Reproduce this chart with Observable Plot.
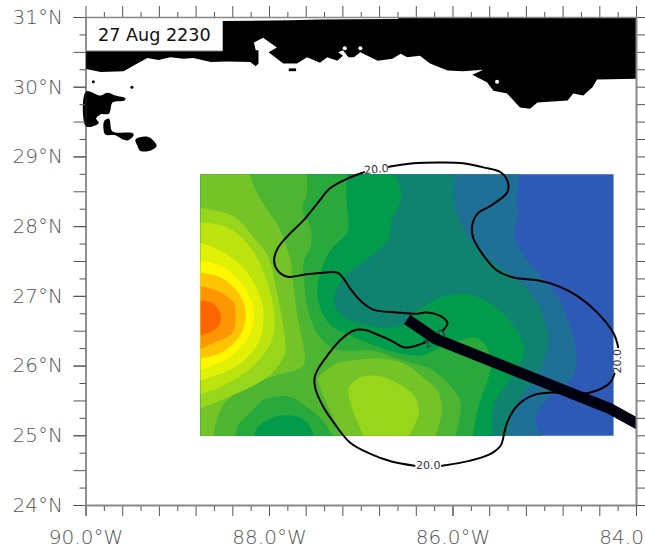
<!DOCTYPE html>
<html>
<head>
<meta charset="utf-8">
<script src="https://cdn.jsdelivr.net/npm/d3@7"></script>
<script src="https://cdn.jsdelivr.net/npm/@observablehq/plot@0.6"></script>
<style>html,body{margin:0;padding:0;background:#fff}svg{display:block}</style>
</head>
<body>
<div id="chart"></div>
<script>
const stamp = "27 Aug 2230";
const contourLabel = "20.0";
const latMajor = [24,24.5,25,25.5,26,26.5,27,27.5,28,28.5,29,29.5,30,30.5,31];
const latMinor = [24.25,24.75,25.25,25.75,26.25,26.75,27.25,27.75,28.25,28.75,29.25,29.75,30.25,30.75];
const latLabelled = [24,25,26,27,28,29,30,31];
const lonMajor = [-90,-89.6,-89.2,-88.8,-88.4,-88,-87.6,-87.2,-86.8,-86.4,-86,-85.6,-85.2,-84.8,-84.4,-84];
const lonMinor = [-89.8,-89.4,-89,-88.6,-88.2,-87.8,-87.4,-87,-86.6,-86.2,-85.8,-85.4,-85,-84.6,-84.2];
const lonLabelled = [-90,-88,-86,-84];

// Filled bands, lowest level first: each list is one region at or above that level (lon, lat)
const band0 = [[-88.75,28.75],[-84.25,28.75],[-84.25,25],[-88.75,25]];
const band1 = [[-85.27,28.75],[-85.31,28.45],[-85.30,28.16],[-85.33,27.87],[-85.23,27.59],[-85.02,27.26],[-84.86,27.01],[-84.74,26.62],[-84.66,26.25],[-84.66,25.96],[-84.75,25.76],[-84.94,25.58],[-85.07,25.33],[-85.10,25.19],[-85.03,25],[-88.75,25],[-88.75,28.75]];
const band2 = [[-85.97,28.75],[-86.00,28.49],[-85.92,28.06],[-85.73,27.69],[-85.41,27.34],[-85.19,27.11],[-85.03,26.77],[-84.96,26.39],[-85.02,26.05],[-85.18,25.69],[-85.27,25.53],[-85.37,25.25],[-85.41,25],[-88.75,25],[-88.75,28.75]];
const band3 = [[-86.64,28.75],[-86.56,28.47],[-86.68,28.06],[-86.70,27.83],[-86.93,27.54],[-87.17,27.30],[-87.30,26.97],[-87.23,26.75],[-87.01,26.61],[-86.72,26.55],[-86.54,26.59],[-86.41,26.77],[-86.30,26.87],[-86.17,26.97],[-85.89,27.04],[-85.56,26.87],[-85.34,26.58],[-85.24,26.34],[-85.23,26.15],[-85.37,25.82],[-85.56,25.43],[-85.57,25],[-88.75,25],[-88.75,28.75]];
const band4 = [[-88.75,28.75],[-87.16,28.75],[-87.16,28.33],[-87.14,28.09],[-87.15,27.92],[-87.31,27.70],[-87.41,27.47],[-87.48,27.08],[-87.42,26.75],[-87.30,26.55],[-87.12,26.44],[-86.90,26.32],[-86.61,26.19],[-86.36,26.15],[-86.21,26.22],[-86.11,26.29],[-85.92,26.37],[-85.76,26.41],[-85.62,26.25],[-85.59,25.96],[-85.72,25.43],[-85.78,25],[-87.52,25],[-87.59,25.19],[-87.75,25.29],[-87.97,25.26],[-88.13,25.12],[-88.17,25],[-88.75,25]];
const band5 = [[-88.75,28.75],[-87.59,28.75],[-87.59,28.49],[-87.64,28.26],[-87.55,27.97],[-87.55,27.73],[-87.63,27.48],[-87.62,27.23],[-87.58,26.80],[-87.45,26.41],[-87.30,26.25],[-87.10,26.22],[-86.87,26.22],[-86.61,26.11],[-86.47,26.05],[-86.25,25.96],[-86.03,25.72],[-85.92,25.48],[-85.97,25],[-87.31,25],[-87.42,25.22],[-87.58,25.40],[-87.79,25.56],[-88.04,25.53],[-88.19,25.36],[-88.34,25.15],[-88.37,25],[-88.75,25]];
const band6West = [[-88.75,28.75],[-88.22,28.75],[-88.15,28.52],[-88.04,28.27],[-87.91,28.02],[-87.83,27.76],[-87.77,27.51],[-87.75,27.27],[-87.70,26.75],[-87.63,26.01],[-87.80,25.91],[-87.86,25.89],[-88.15,25.76],[-88.45,25.53],[-88.56,25.29],[-88.61,25],[-88.75,25]];
const band6East = [[-87.42,25.91],[-87.26,26.04],[-87.04,26.09],[-86.79,26.11],[-86.54,26.04],[-86.32,25.83],[-86.17,25.65],[-86.12,25.40],[-86.14,25.22],[-86.19,25],[-87.20,25],[-87.34,25.36],[-87.42,25.60],[-87.48,25.82]];
const band7West = [[-88.75,28.27],[-88.59,28.23],[-88.37,28.13],[-88.17,27.84],[-88.01,27.56],[-87.94,27.18],[-87.88,26.80],[-87.83,26.37],[-87.83,26.19],[-87.94,25.94],[-88.12,25.76],[-88.40,25.58],[-88.75,25.39]];
const band7East = [[-87.14,25.69],[-87.03,25.83],[-86.82,25.86],[-86.61,25.76],[-86.43,25.58],[-86.37,25.36],[-86.43,25.12],[-86.49,25],[-86.97,25],[-87.08,25.32],[-87.14,25.58]];
const band8 = [[-88.75,28.06],[-88.46,27.99],[-88.17,27.63],[-87.96,26.87],[-87.97,26.39],[-88.17,26.01],[-88.50,25.72],[-88.75,25.60]];
const band9 = [[-88.75,27.77],[-88.50,27.63],[-88.24,27.34],[-88.07,26.83],[-88.12,26.34],[-88.35,26.01],[-88.75,25.79]];
const band10 = [[-88.75,27.51],[-88.53,27.44],[-88.28,27.15],[-88.17,26.77],[-88.24,26.39],[-88.46,26.11],[-88.75,25.95]];
const band11 = [[-88.75,27.34],[-88.53,27.27],[-88.34,27.05],[-88.26,26.77],[-88.32,26.44],[-88.53,26.19],[-88.75,26.11]];
const band12 = [[-88.75,27.15],[-88.57,27.08],[-88.39,26.91],[-88.37,26.75],[-88.40,26.48],[-88.59,26.34],[-88.75,26.25]];
const band13 = [[-88.75,26.94],[-88.62,26.90],[-88.53,26.72],[-88.57,26.55],[-88.75,26.44]];

// Coast and land
const mainland = [[-90,30.52],[-90,30.26],[-89.84,30.22],[-89.59,30.23],[-89.48,30.31],[-89.33,30.42],[-89.21,30.39],[-89.08,30.43],[-88.94,30.41],[-88.83,30.42],[-88.64,30.36],[-88.46,30.37],[-88.21,30.36],[-88.15,30.30],[-88.12,30.34],[-88.12,30.53],[-88.15,30.53],[-88.17,30.64],[-88.07,30.71],[-87.92,30.57],[-88.01,30.50],[-87.85,30.34],[-87.70,30.34],[-87.59,30.43],[-87.45,30.35],[-87.37,30.43],[-87.26,30.38],[-87.20,30.45],[-87.25,30.50],[-87.20,30.53],[-87.14,30.43],[-87.08,30.43],[-87.01,30.50],[-86.82,30.38],[-86.66,30.41],[-86.57,30.48],[-86.50,30.43],[-86.36,30.45],[-86.25,30.34],[-86.06,30.24],[-85.89,30.23],[-85.67,30.25],[-85.79,30.18],[-85.63,30.07],[-85.56,29.95],[-85.41,29.91],[-85.27,29.71],[-85.16,29.69],[-85.08,29.78],[-84.75,29.81],[-84.69,29.91],[-84.58,29.88],[-84.48,30.00],[-84.43,30.11],[-84,30.12],[-84,31],[-86.59,31],[-86.60,30.98],[-87.45,30.97],[-87.77,30.96],[-88.51,30.95],[-88.51,30.52]];
const deltaA = [[-90,29.94],[-89.84,29.88],[-89.77,29.92],[-89.68,29.88],[-89.57,29.84],[-89.58,29.81],[-89.71,29.78],[-89.75,29.62],[-89.84,29.61],[-89.89,29.55],[-89.86,29.49],[-89.90,29.45],[-90,29.44]];
const deltaB = [[-89.80,29.52],[-89.75,29.55],[-89.72,29.38],[-89.68,29.35],[-89.49,29.34],[-89.48,29.31],[-89.54,29.24],[-89.60,29.25],[-89.68,29.31],[-89.79,29.32],[-89.81,29.41]];
const deltaC = [[-89.46,29.25],[-89.33,29.29],[-89.27,29.24],[-89.23,29.16],[-89.30,29.09],[-89.41,29.09],[-89.44,29.16]];
const barrier = [[-87.79,30.27],[-87.71,30.27],[-87.71,30.23],[-87.79,30.23]];
const islets = [[-89.92,30.08],[-89.50,30.0]];
const lakes = [[-85.52,30.08],[-87.18,30.56],[-87.01,30.56]];

// The 20.0 contour, broken at its labels
const contourA = [[-86.97,28.78],[-87.15,28.69],[-87.34,28.55],[-87.48,28.33],[-87.63,28.09],[-87.80,27.87],[-87.91,27.69],[-87.95,27.51],[-87.91,27.37],[-87.80,27.28],[-87.63,27.31],[-87.41,27.34],[-87.26,27.34],[-87.20,27.27],[-87.12,27.11],[-87.01,26.94],[-86.87,26.81],[-86.61,26.77],[-86.39,26.75],[-86.28,26.77],[-86.14,26.72],[-86.06,26.62],[-86.11,26.51]];
const contourB = [[-86.30,26.34],[-86.47,26.27],[-86.54,26.27],[-86.68,26.37],[-86.82,26.45],[-86.97,26.52],[-87.08,26.51],[-87.23,26.37],[-87.37,26.15],[-87.47,25.96],[-87.51,25.82],[-87.50,25.68],[-87.42,25.43],[-87.30,25.19],[-87.12,24.90],[-86.90,24.74],[-86.67,24.63],[-86.42,24.57]];
const contourC = [[-86.12,24.57],[-85.82,24.64],[-85.59,24.74],[-85.48,24.86],[-85.44,25.05],[-85.41,25.19],[-85.30,25.43],[-85.13,25.58],[-84.91,25.62],[-84.61,25.60],[-84.43,25.65],[-84.29,25.76],[-84.24,25.89]];
const contourD = [[-84.20,26.27],[-84.25,26.47],[-84.43,26.77],[-84.65,27.01],[-84.86,27.15],[-85.08,27.23],[-85.34,27.27],[-85.52,27.37],[-85.68,27.61],[-85.78,27.84],[-85.79,28.02],[-85.73,28.19],[-85.59,28.30],[-85.41,28.49],[-85.40,28.63],[-85.48,28.78],[-85.67,28.85],[-85.89,28.91],[-86.14,28.92],[-86.43,28.91],[-86.70,28.86]];
const labelLon = [-86.835,-86.27,-84.21,-86.20];
const labelLat = [28.82,24.57,26.07,26.39];
const labelTilt = [-5,0,-90,-35];

const track = [[-86.50,26.67],[-86.19,26.39],[-84.29,25.39],[-83.96,25.15]];

// Styling, kept apart from the values above
const levelColors = ["#2e5ab7","#1f7096","#0f8370","#009b4b","#29a83c","#4db531","#74c428","#98d61c","#bde30f","#e0f107","#fff700","#ffc400","#ff9500","#ff6600"];
const bandsByLevel = [[band0],[band1],[band2],[band3],[band4],[band5],[band6West,band6East],[band7West,band7East],[band8],[band9],[band10],[band11],[band12],[band13]];
const thinFont = {fontFamily:"'DejaVu Sans'", fontWeight:200};
const axisInk = "#555";

// A point on the edge of the filled box is repeated so the smooth curve keeps a sharp corner there
const onEdge = ([lon, lat]) => lon === -88.75 || lon === -84.25 || lat === 25 || lat === 28.75;
const keepEdges = pts => pts.flatMap(p => onEdge(p) ? [p, p] : [p]);
const shape = (pts, fill, curve = "linear") => Plot.line(pts, {x:d=>d[0], y:d=>d[1], fill, stroke:"none", curve});
const contour = pts => Plot.line(pts, {x:d=>d[0], y:d=>d[1], stroke:"#000", strokeWidth:2, curve:"catmull-rom"});

const marks = [];
bandsByLevel.forEach((regions, i) => regions.forEach(r => marks.push(shape(keepEdges(r), levelColors[i], "catmull-rom"))));
marks.push(shape(mainland, "#000"));
[deltaA, deltaB, deltaC].forEach(p => marks.push(shape(p, "#000", "catmull-rom-closed")));
marks.push(shape(barrier, "#000"));
marks.push(Plot.dot(islets, {x:d=>d[0], y:d=>d[1], r:1.5, fill:"#000", stroke:"none"}));
marks.push(Plot.dot(lakes, {x:d=>d[0], y:d=>d[1], r:2, fill:"#fff", stroke:"none"}));
[contourA, contourB, contourC, contourD].forEach(p => marks.push(contour(p)));
labelLon.forEach((lon, i) => marks.push(Plot.text([contourLabel], {
  x:[lon], y:[labelLat[i]], text:d=>d, rotate:labelTilt[i], fontSize:11, fill:"#333", fontFamily:"'DejaVu Sans'"
})));
marks.push(Plot.line(track, {x:d=>d[0], y:d=>d[1], stroke:"#00000f", strokeWidth:11, strokeLinecap:"butt", strokeLinejoin:"miter", clip:true}));

const axisOpts = {label:null, stroke:axisInk, color:axisInk, ...thinFont, fontSize:20};
const blank = () => "";
marks.push(
  Plot.axisY(latMajor, {anchor:"left", tickSize:12, tickFormat:blank, ...axisOpts}),
  Plot.axisY(latMinor, {anchor:"left", tickSize:6, tickFormat:blank, ...axisOpts}),
  Plot.axisY(latLabelled, {anchor:"left", tickSize:12, tickPadding:11, tickFormat:d=>`${d}°N`, ...axisOpts}),
  Plot.axisY(latMajor, {anchor:"right", tickSize:9, tickFormat:blank, ...axisOpts}),
  Plot.axisY(latMinor, {anchor:"right", tickSize:9, tickFormat:blank, ...axisOpts}),
  Plot.axisX(lonMajor, {anchor:"bottom", tickSize:11, tickFormat:blank, ...axisOpts}),
  Plot.axisX(lonMinor, {anchor:"bottom", tickSize:6, tickFormat:blank, ...axisOpts}),
  Plot.axisX(lonLabelled, {anchor:"bottom", tickSize:11, tickPadding:13, tickFormat:d=>`${(-d).toFixed(1)}°W`, ...axisOpts}),
  Plot.axisX(lonMajor, {anchor:"top", tickSize:12, tickFormat:blank, ...axisOpts}),
  Plot.axisX(lonMinor, {anchor:"top", tickSize:6, tickFormat:blank, ...axisOpts}),
  Plot.ruleX([-90], {stroke:"#222", strokeWidth:1}),
  Plot.ruleX([-84], {stroke:"#888", strokeWidth:2}),
  Plot.ruleY([24], {stroke:"#888", strokeWidth:2}),
  Plot.ruleY([31], {stroke:"#888", strokeWidth:1.5}),
  Plot.ruleY([30.52], {x1:-90, x2:-88.51, stroke:"#888", strokeWidth:1}),
  Plot.text([stamp], {frameAnchor:"top-left", text:d=>d, dx:12, dy:18, fontSize:17.6, fill:"#111", fontFamily:"'DejaVu Sans'", lineAnchor:"middle", textAnchor:"start"})
);

const chart = Plot.plot({
  width:645, height:556,
  marginLeft:85.5, marginRight:9, marginTop:17, marginBottom:51,
  x:{domain:[-90,-84], axis:null},
  y:{domain:[24,31], axis:null},
  style:{background:"#fff"},
  marks
});
document.getElementById("chart").appendChild(chart);
</script>
</body>
</html>
